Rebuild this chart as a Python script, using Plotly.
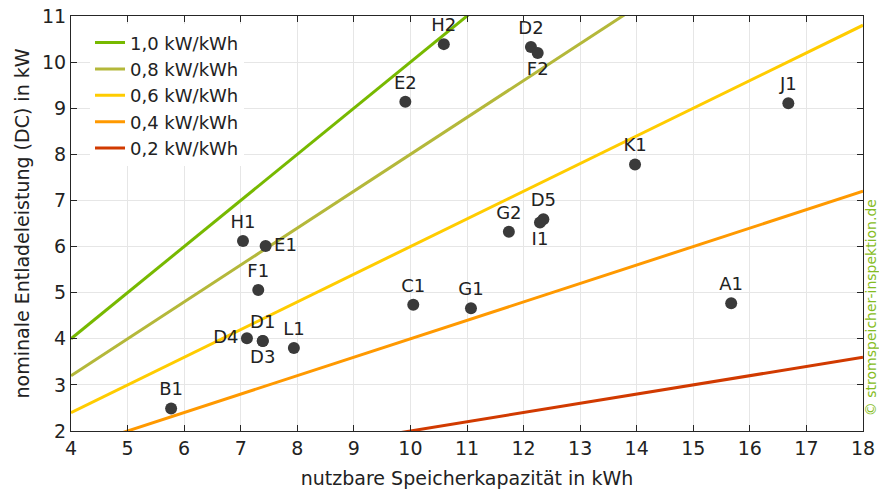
import plotly.graph_objects as go

# ---- data ----
labels = ["H2", "D2", "F2", "E2", "J1", "K1", "G2", "D5", "I1", "C1", "G1", "A1",
          "H1", "E1", "F1", "D4", "D1", "D3", "L1", "B1"]
capacity_kwh = [10.59, 12.13, 12.25, 9.91, 16.68, 13.97, 11.74, 12.35, 12.29, 10.05, 11.07, 15.67,
                7.04, 7.44, 7.31, 7.11, 7.39, 7.39, 7.94, 5.77]
power_kw = [10.39, 10.33, 10.20, 9.14, 9.11, 7.78, 6.32, 6.59, 6.52, 4.74, 4.66, 4.77,
            6.12, 6.01, 5.06, 4.01, 3.95, 3.95, 3.80, 2.49]
label_pos = ["top center", "top center", "bottom center", "top center", "top center", "top center",
             "top center", "top center", "bottom center", "top center", "top center", "top center",
             "top center", "middle right", "top center", "middle left", "top center", "bottom center",
             "top center", "top center"]

ratios = [1.0, 0.8, 0.6, 0.4, 0.2]
ratio_names = ["1,0 kW/kWh", "0,8 kW/kWh", "0,6 kW/kWh", "0,4 kW/kWh", "0,2 kW/kWh"]
ratio_colors = ["#77b900", "#b4b83a", "#ffcc00", "#ff9900", "#d13a00"]
x_line = [4, 18]

x_ticks = list(range(4, 19))
y_ticks = list(range(2, 12))

FONT = "Verdana, DejaVu Sans, sans-serif"
TXT = "#222222"

fig = go.Figure()

for r, name, col in zip(ratios, ratio_names, ratio_colors):
    fig.add_trace(go.Scatter(
        x=x_line, y=[r * v for v in x_line], mode="lines", name=name,
        line=dict(color=col, width=3), hoverinfo="skip"))

fig.add_trace(go.Scatter(
    x=capacity_kwh, y=power_kw, mode="markers+text", text=labels,
    textposition=label_pos, showlegend=False,
    marker=dict(color="#3a3a3a", size=12),
    textfont=dict(family=FONT, size=18, color=TXT)))

axis_common = dict(
    showline=True, linecolor="#262626", linewidth=1, mirror="ticks",
    ticks="inside", ticklen=6, tickcolor="#262626",
    showgrid=True, gridcolor="#e6e6e6", gridwidth=1, zeroline=False,
    tickfont=dict(family=FONT, size=19, color=TXT), automargin=False,
)

fig.update_xaxes(range=[4, 18], tickvals=x_ticks, ticktext=[str(v) for v in x_ticks],
                 title=dict(text="nutzbare Speicherkapazität in kWh",
                            font=dict(family=FONT, size=19, color=TXT), standoff=14),
                 **axis_common)
fig.update_yaxes(range=[2, 11], tickvals=y_ticks, ticktext=[str(v) for v in y_ticks],
                 title=dict(text="nominale Entladeleistung (DC) in kW",
                            font=dict(family=FONT, size=19, color=TXT), standoff=7),
                 **axis_common)

fig.add_annotation(text="© stromspeicher-inspektion.de", xref="paper", yref="paper",
                   x=1.0, xshift=8, y=0.296, textangle=-90, showarrow=False,
                   xanchor="center", yanchor="middle",
                   font=dict(family=FONT, size=14, color="#85bc22"))

fig.update_layout(
    width=879, height=489,
    margin=dict(l=71, r=16, t=16, b=58),
    paper_bgcolor="white", plot_bgcolor="white",
    font=dict(family=FONT, color=TXT),
    legend=dict(x=0.024, y=0.98, xanchor="left", yanchor="top",
                bgcolor="white", borderwidth=0,
                font=dict(family=FONT, size=18, color=TXT),
                tracegroupgap=0, itemwidth=30),
)

fig.write_html("out.html", config={"displayModeBar": False},
               post_script="document.body.style.margin='0';")
